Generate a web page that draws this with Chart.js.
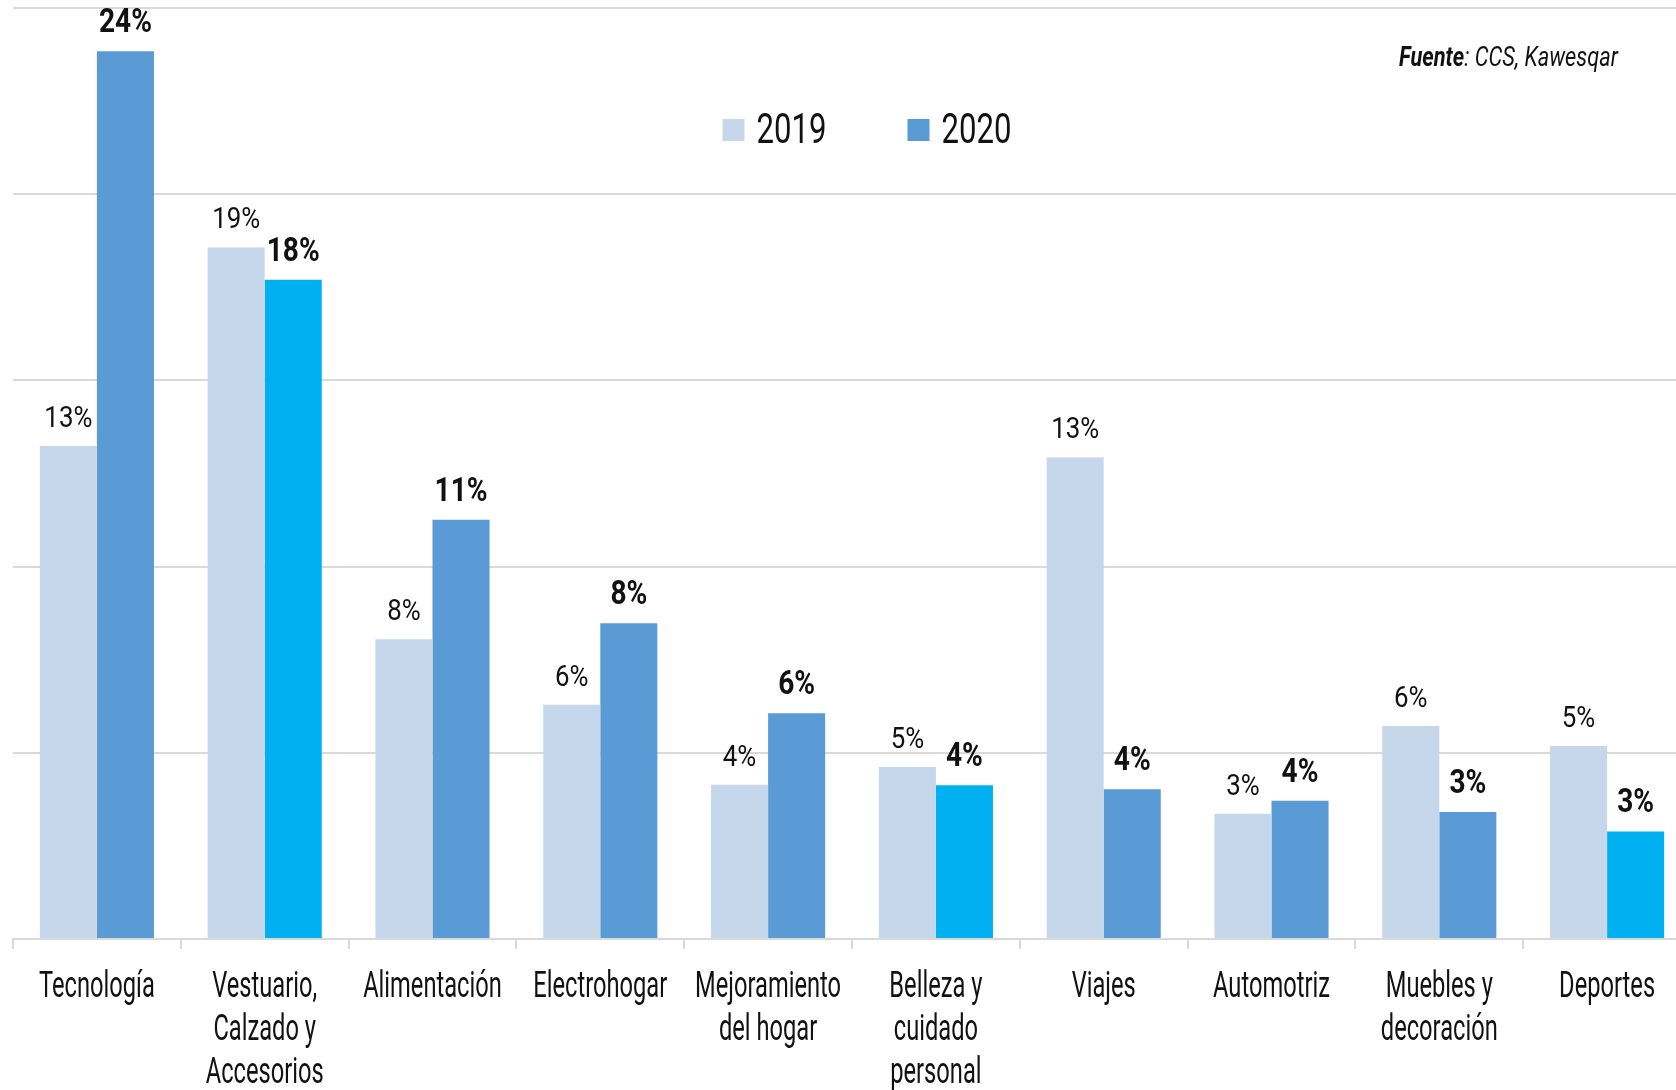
<!DOCTYPE html>
<html lang="es">
<head>
<meta charset="utf-8">
<title>Participación por categoría 2019-2020</title>
<script src="https://cdn.jsdelivr.net/npm/chart.js@4/dist/chart.umd.min.js"></script>
<style>
  html, body { margin: 0; padding: 0; background: #fff; overflow: hidden; }
  #wrap { position: relative; width: 1700px; height: 1090px; }
</style>
</head>
<body>
<div id="wrap"><canvas id="chart"></canvas></div>
<script>
// Categorías (etiquetas en varias líneas)
const categories = [
  ['Tecnología'],
  ['Vestuario,', 'Calzado y', 'Accesorios'],
  ['Alimentación'],
  ['Electrohogar'],
  ['Mejoramiento', 'del hogar'],
  ['Belleza y', 'cuidado', 'personal'],
  ['Viajes'],
  ['Automotriz'],
  ['Muebles y', 'decoración'],
  ['Deportes']
];

// Participación (%) por año
const values2019 = [13.24, 18.57, 8.05, 6.29, 4.14, 4.62, 12.93, 3.36, 5.72, 5.18];
const values2020 = [23.84, 17.70, 11.26, 8.48, 6.06, 4.13, 4.02, 3.71, 3.41, 2.89];

const seriesNames = ['2019', '2020'];
const sourceBold = 'Fuente';
const sourceRest = ': CCS, Kawesqar';

// Estilos
const FONT = 'Roboto, "Noto Sans", sans-serif';
const COLOR_2019 = '#C6D7EC';
const COLOR_2020 = '#5B9BD5';
const COLOR_HIGHLIGHT = '#00B0F0';
const highlight2020 = [false, true, false, false, false, true, false, false, false, true];
const GRID = '#D9D9D9';
const TEXT = '#111111';

// Texto con compresión horizontal (tipografía condensada)
function squeeze(ctx, font, sample, width) {
  ctx.font = font;
  return width / ctx.measureText(sample).width;
}
function drawText(ctx, text, x, y, font, sx, align) {
  ctx.save();
  ctx.font = font;
  ctx.textAlign = align || 'center';
  ctx.textBaseline = 'alphabetic';
  ctx.translate(x, y);
  ctx.scale(sx, 1);
  ctx.fillText(text, 0, 0);
  ctx.restore();
}

// Etiquetas de valor sobre cada barra
const valueLabels = {
  id: 'valueLabels',
  afterDatasetsDraw(chart) {
    const ctx = chart.ctx;
    const fonts = [`400 30px ${FONT}`, `700 33px ${FONT}`];
    const sxs = [squeeze(ctx, fonts[0], '13%', 48), squeeze(ctx, fonts[1], '24%', 53)];
    ctx.save();
    ctx.fillStyle = TEXT;
    chart.data.datasets.forEach((ds, i) => {
      const meta = chart.getDatasetMeta(i);
      meta.data.forEach((bar, j) => {
        drawText(ctx, Math.round(ds.data[j]) + '%', bar.x, bar.y - 19, fonts[i], sxs[i]);
      });
    });
    ctx.restore();
  }
};

// Etiquetas de categoría bajo el eje X
const categoryLabels = {
  id: 'categoryLabels',
  afterDraw(chart) {
    const ctx = chart.ctx;
    const xs = chart.scales.x;
    const font = `400 37px ${FONT}`;
    const sx = (squeeze(ctx, font, 'Tecnología', 115) + squeeze(ctx, font, 'Mejoramiento', 147)) / 2;
    const base = chart.chartArea.bottom + 57.5;
    ctx.save();
    ctx.fillStyle = TEXT;
    chart.data.labels.forEach((lines, i) => {
      const x = xs.getPixelForTick(i);
      lines.forEach((line, k) => drawText(ctx, line, x, base + k * 43, font, sx));
    });
    ctx.restore();
  }
};

// Leyenda y fuente dentro del área del gráfico
const overlayText = {
  id: 'overlayText',
  afterDraw(chart) {
    const ctx = chart.ctx;
    const area = chart.chartArea;
    ctx.save();

    // Leyenda
    const lfont = `400 43px ${FONT}`;
    const lsx = squeeze(ctx, lfont, '2019', 70);
    const box = 22, gapText = 12, gapItem = 81;
    const colors = [COLOR_2019, COLOR_2020];
    ctx.font = lfont;
    const widths = seriesNames.map(s => ctx.measureText(s).width * lsx);
    let total = 0;
    widths.forEach((w, i) => { total += box + gapText + w + (i < widths.length - 1 ? gapItem : 0); });
    let x = (area.left + area.right) / 2 + 15 - total / 2;
    const boxTop = area.top + 111;
    seriesNames.forEach((s, i) => {
      ctx.fillStyle = colors[i];
      ctx.fillRect(x, boxTop, box, box);
      ctx.fillStyle = TEXT;
      drawText(ctx, s, x + box + gapText, boxTop + 24, lfont, lsx, 'left');
      x += box + gapText + widths[i] + gapItem;
    });

    // Fuente
    const right = area.right - 73;
    const base = area.top + 58;
    const fB = `italic 700 28px ${FONT}`;
    const fR = `italic 400 28px ${FONT}`;
    ctx.font = fB;
    const wB = ctx.measureText(sourceBold).width;
    ctx.font = fR;
    const wR = ctx.measureText(sourceRest).width;
    const ssx = 219 / (wB + wR);
    ctx.fillStyle = TEXT;
    drawText(ctx, sourceRest, right, base, fR, ssx, 'right');
    drawText(ctx, sourceBold, right - wR * ssx, base, fB, ssx, 'right');
    ctx.restore();
  }
};

new Chart(document.getElementById('chart'), {
  type: 'bar',
  data: {
    labels: categories,
    datasets: [
      {
        label: seriesNames[0],
        data: values2019,
        backgroundColor: COLOR_2019,
        borderWidth: 0,
        categoryPercentage: 0.68,
        barPercentage: 1.0
      },
      {
        label: seriesNames[1],
        data: values2020,
        backgroundColor: highlight2020.map(h => h ? COLOR_HIGHLIGHT : COLOR_2020),
        borderWidth: 0,
        categoryPercentage: 0.68,
        barPercentage: 1.0
      }
    ]
  },
  options: {
    responsive: true,
    maintainAspectRatio: false,
    animation: false,
    layout: { padding: { left: 13, right: 9, top: 8, bottom: 141 } },
    plugins: {
      legend: { display: false },
      tooltip: { enabled: false }
    },
    scales: {
      x: {
        offset: true,
        grid: {
          offset: true,
          drawOnChartArea: false,
          drawTicks: true,
          tickLength: 10,
          color: GRID,
          lineWidth: 2
        },
        border: { display: true, color: GRID, width: 2 },
        ticks: { display: false, autoSkip: false }
      },
      y: {
        min: 0,
        max: 25,
        ticks: { display: false, stepSize: 5 },
        grid: { color: GRID, lineWidth: 2, drawTicks: false },
        border: { display: false }
      }
    }
  },
  plugins: [valueLabels, categoryLabels, overlayText]
});
</script>
</body>
</html>
